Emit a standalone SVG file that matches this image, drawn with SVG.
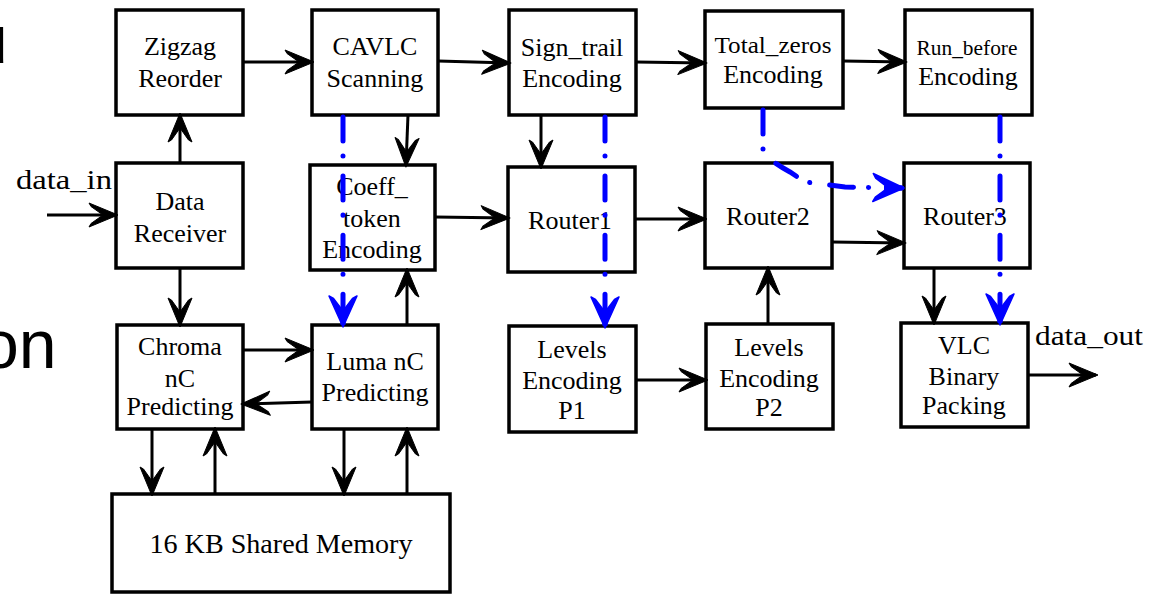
<svg xmlns="http://www.w3.org/2000/svg" width="1160" height="595" viewBox="0 0 1160 595">
<style>
.box{fill:#fff;stroke:#000;stroke-width:3.5}
.t{font-family:"Liberation Serif","Times New Roman",serif;font-size:26px;text-anchor:middle;fill:#000}
.s{font-family:"Liberation Serif","Times New Roman",serif;font-size:28px;fill:#000}
.big{font-family:"Liberation Sans",Arial,sans-serif;font-size:68px;fill:#000}
.c{stroke:#000;stroke-width:3;fill:none;marker-end:url(#ah)}
.b{stroke:#0000ff;stroke-width:5;fill:none;stroke-linecap:round;stroke-dasharray:24 15 0.1 20;marker-end:url(#bh)}
</style>
<defs>
<marker id="ah" markerUnits="userSpaceOnUse" orient="auto" refX="0" refY="0" markerWidth="40" markerHeight="40" overflow="visible">
<path d="M2,0 L-27,-12 L-25,-8.5 L-13,0 L-25,8.5 L-27,12 Z" fill="#000" stroke="#000" stroke-width="1" stroke-linejoin="round"/>
</marker>
<marker id="bh" markerUnits="userSpaceOnUse" orient="auto" refX="0" refY="0" markerWidth="40" markerHeight="40" overflow="visible">
<path d="M2,0 L-29,-14 L-26.5,-9.5 L-14,0 L-26.5,9.5 L-29,14 Z" fill="#0000ff" stroke="#0000ff" stroke-width="1.5" stroke-linejoin="round"/>
<path d="M-18,0 H0" stroke="#0000ff" stroke-width="5"/>
</marker>
</defs>
<rect width="1160" height="595" fill="#fff"/>
<text class="big" x="-30" y="63">u</text>
<text class="big" x="-19" y="368">on</text>

<g id="zigzag"><rect class="box" x="116" y="10" width="127" height="105"/><text class="t" x="180" y="55">Zigzag</text><text class="t" x="180" y="87">Reorder</text></g>
<g id="cavlc"><rect class="box" x="312" y="10" width="126" height="105"/><text class="t" x="375" y="55">CAVLC</text><text class="t" x="375" y="87">Scanning</text></g>
<g id="signtrail"><rect class="box" x="509" y="10" width="127" height="105"/><text class="t" x="572" y="56">Sign_trail</text><text class="t" x="572" y="87">Encoding</text></g>
<g id="totalzeros"><rect class="box" x="705" y="11" width="138" height="97"/><text class="t" x="773" y="53" style="font-size:23px" textLength="117" lengthAdjust="spacingAndGlyphs">Total_zeros</text><text class="t" x="773" y="83">Encoding</text></g>
<g id="runbefore"><rect class="box" x="905" y="10" width="127" height="105"/><text class="t" x="967" y="55" style="font-size:20px" textLength="101" lengthAdjust="spacingAndGlyphs">Run_before</text><text class="t" x="968" y="85">Encoding</text></g>
<g id="datareceiver"><rect class="box" x="116" y="163" width="127" height="105"/><text class="t" x="180" y="210">Data</text><text class="t" x="180" y="242">Receiver</text></g>
<g id="coefftoken"><rect class="box" x="310" y="165" width="125" height="105"/><text class="t" x="372" y="195">Coeff_</text><text class="t" x="372" y="227">token</text><text class="t" x="372" y="258">Encoding</text></g>
<g id="router1"><rect class="box" x="508" y="167" width="127" height="105"/><text class="t" x="570" y="229">Router1</text></g>
<g id="router2"><rect class="box" x="705" y="163" width="127" height="105"/><text class="t" x="768" y="225">Router2</text></g>
<g id="router3"><rect class="box" x="904" y="163" width="126" height="105"/><text class="t" x="965" y="225">Router3</text></g>
<g id="chroma"><rect class="box" x="117" y="325" width="126" height="104"/><text class="t" x="180" y="355">Chroma</text><text class="t" x="180" y="387">nC</text><text class="t" x="180" y="415">Predicting</text></g>
<g id="luma"><rect class="box" x="312" y="325" width="126" height="104"/><text class="t" x="375" y="370">Luma nC</text><text class="t" x="375" y="401">Predicting</text></g>
<g id="levelsp1"><rect class="box" x="509" y="326" width="127" height="106"/><text class="t" x="572" y="358">Levels</text><text class="t" x="572" y="389">Encoding</text><text class="t" x="572" y="419">P1</text></g>
<g id="levelsp2"><rect class="box" x="706" y="324" width="127" height="105"/><text class="t" x="769" y="356">Levels</text><text class="t" x="769" y="387">Encoding</text><text class="t" x="769" y="416">P2</text></g>
<g id="vlc"><rect class="box" x="901" y="323" width="127" height="104"/><text class="t" x="964" y="354">VLC</text><text class="t" x="964" y="385">Binary</text><text class="t" x="964" y="414">Packing</text></g>
<g id="memory"><rect class="box" x="112" y="494" width="338" height="98"/><text class="t" x="281" y="553" style="font-size:27px" textLength="263" lengthAdjust="spacingAndGlyphs">16 KB Shared Memory</text></g>
<text class="s" x="16" y="189" textLength="96" lengthAdjust="spacingAndGlyphs">data_in</text>
<text class="s" x="1035" y="345" textLength="108" lengthAdjust="spacingAndGlyphs">data_out</text>

<g id="connectors">
<path class="c" d="M47,215 H116"/>
<path class="c" d="M180,163 V115"/>
<path class="c" d="M243,62 H312"/>
<path class="c" d="M438,61 L509,63"/>
<path class="c" d="M636,62 L705,63"/>
<path class="c" d="M843,61 L905,62"/>
<path class="c" d="M408,115 L406,165"/>
<path class="c" d="M541,115 V167"/>
<path class="c" d="M435,217 L508,218"/>
<path class="c" d="M635,219 H705"/>
<path class="c" d="M832,242 L904,243"/>
<path class="c" d="M934,268 V323"/>
<path class="c" d="M1028,375 H1096"/>
<path class="c" d="M180,268 V325"/>
<path class="c" d="M407,325 V270"/>
<path class="c" d="M243,350 H312"/>
<path class="c" d="M312,402 L243,404"/>
<path class="c" d="M152,429 V494"/>
<path class="c" d="M215,494 V429"/>
<path class="c" d="M344,429 V494"/>
<path class="c" d="M407,494 V429"/>
<path class="c" d="M636,380 H706"/>
<path class="c" d="M768,324 V268"/>
<path class="b" d="M343,117 V325"/>
<path class="b" d="M605,117 V326"/>
<path class="b" d="M763,110 L763,150 Q765,158 790,172 L805,182 L845,187 L902,188"/>
<path class="b" d="M1000,117 V323"/>
</g>
</svg>
